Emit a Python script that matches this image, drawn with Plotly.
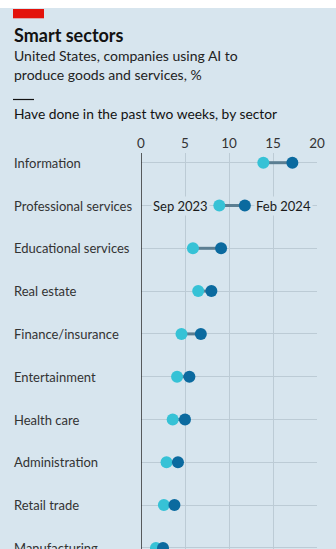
import plotly.graph_objects as go

sectors = ["Information", "Professional services", "Educational services", "Real estate",
           "Finance/insurance", "Entertainment", "Health care", "Administration",
           "Retail trade", "Manufacturing"]
sep2023 = [13.9, 8.9, 5.9, 6.5, 4.6, 4.1, 3.6, 2.9, 2.6, 1.7]
feb2024 = [17.2, 11.8, 9.1, 8.0, 6.8, 5.5, 5.0, 4.2, 3.8, 2.5]
x_ticks = [0, 5, 10, 15, 20]

BG = "#d7e5ee"
CYAN = "#36c2d6"
DARK = "#0b6a9f"
LINE = "#5b7e92"
GRID = "#bccbd5"
FONT = "Lato"

W, H = 336, 549
L, R, T, B = 141, 19, 153, 0
PW, PH = W - L - R, H - T - B
pos = list(range(len(sectors)))


def px(xp):
    return (xp - L) / PW


def py(yp):
    return (H - B - yp) / PH


fig = go.Figure()
for i, (a, b) in enumerate(zip(sep2023, feb2024)):
    fig.add_trace(go.Scatter(x=[a, b], y=[i, i], mode="lines",
                             line=dict(color=LINE, width=3), showlegend=False,
                             hoverinfo="skip", cliponaxis=False))
fig.add_trace(go.Scatter(x=sep2023, y=pos, mode="markers", name="Sep 2023",
                         marker=dict(color=CYAN, size=12), showlegend=False, cliponaxis=False))
fig.add_trace(go.Scatter(x=feb2024, y=pos, mode="markers", name="Feb 2024",
                         marker=dict(color=DARK, size=12), showlegend=False, cliponaxis=False))

annotations = []
for i, s in enumerate(sectors):
    annotations.append(dict(text=s, x=px(12), xref="paper", y=i, yref="y",
                            xanchor="left", yanchor="middle", showarrow=False,
                            font=dict(family=FONT, size=13, color="#333333")))
annotations.append(dict(text="Sep 2023", x=sep2023[1], y=1, xref="x", yref="y",
                        xanchor="right", yanchor="middle", xshift=-9, showarrow=False,
                        bgcolor=BG, borderpad=1,
                        font=dict(family=FONT, size=13, color="#1a1a1a")))
annotations.append(dict(text="Feb 2024", x=feb2024[1], y=1, xref="x", yref="y",
                        xanchor="left", yanchor="middle", xshift=9, showarrow=False,
                        bgcolor=BG, borderpad=1,
                        font=dict(family=FONT, size=13, color="#1a1a1a")))


def title(text, ypix, size, color):
    return dict(text=text, x=px(12), y=py(ypix), xref="paper", yref="paper",
                xanchor="left", yanchor="middle", showarrow=False,
                font=dict(family=FONT, size=size, color=color))


annotations += [
    title("<b>Smart sectors</b>", 35, 18, "#121212"),
    title("United States, companies using AI to", 56, 14, "#222222"),
    title("produce goods and services, %", 75, 14, "#222222"),
    title("Have done in the past two weeks, by sector", 113, 13.8, "#121212"),
]

shapes = [
    dict(type="rect", xref="paper", yref="paper", x0=px(0), x1=px(W), y0=py(8), y1=py(0),
         fillcolor="white", line=dict(width=0), layer="below"),
    dict(type="rect", xref="paper", yref="paper", x0=px(13), x1=px(44), y0=py(18.3), y1=py(9),
         fillcolor="#e3120b", line=dict(width=0)),
    dict(type="line", xref="paper", yref="paper", x0=px(13), x1=px(34), y0=py(99.5), y1=py(99.5),
         line=dict(color="#121212", width=1.2)),
    dict(type="line", xref="x", yref="paper", x0=0, x1=0, y0=0, y1=1,
         line=dict(color="#2b2b2b", width=1.5), layer="above"),
]

top_idx = -(162.7 - T) / 42.8
bot_idx = (H - 162.7) / 42.8

fig.update_layout(
    width=W, height=H, margin=dict(l=L, r=R, t=T, b=B),
    paper_bgcolor=BG, plot_bgcolor=BG,
    xaxis=dict(range=[0, 20], tickvals=x_ticks, side="top", showgrid=True,
               gridcolor=GRID, gridwidth=1.2, zeroline=False, showline=False,
               ticks="", ticklabelstandoff=1,
               tickfont=dict(family=FONT, size=13.5, color="#333333"), fixedrange=True),
    yaxis=dict(range=[bot_idx, top_idx], tickvals=pos, showticklabels=False,
               showgrid=True, gridcolor=GRID, gridwidth=1.2, zeroline=False,
               showline=False, ticks="", fixedrange=True),
    annotations=annotations, shapes=shapes, showlegend=False,
)

fig.write_html("out.html")
